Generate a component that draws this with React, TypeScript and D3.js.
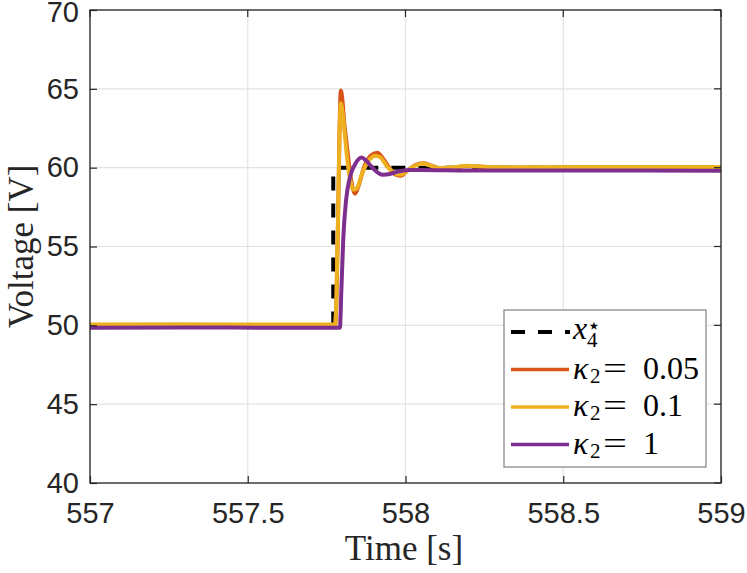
import { useEffect, useRef } from "react";
import * as d3 from "d3";

type Pt = [number, number];

// reference x4* (step)
const refStep: Pt[] = [
  [557, 50],
  [557.771, 50],
  [557.771, 60],
  [559, 60],
];

// kappa2 = 0.05
const kappa005: Pt[] = [
  [557, 50.02], [557.3, 50.03], [557.6, 50.02], [557.777, 50.02],
  [557.781, 51.5], [557.786, 56.5], [557.791, 62.5], [557.795, 64.9],
  [557.8, 64.3], [557.806, 62.8], [557.813, 61.6], [557.824, 59.7],
  [557.834, 58.6], [557.84, 58.35], [557.852, 58.9], [557.87, 60.1],
  [557.892, 60.8], [557.911, 60.95], [557.928, 60.6], [557.95, 59.95],
  [557.97, 59.55], [557.985, 59.48], [558.005, 59.8], [558.03, 60.15],
  [558.056, 60.28], [558.08, 60.15], [558.11, 59.95], [558.15, 59.98],
  [558.194, 60.1], [558.25, 60.04], [558.35, 59.99], [558.6, 60.02], [559, 60.0],
];

// kappa2 = 0.1
const kappa01: Pt[] = [
  [557, 50.06], [557.3, 50.06], [557.6, 50.05], [557.777, 50.05],
  [557.781, 51.8], [557.786, 56.5], [557.791, 62.2], [557.795, 64.08],
  [557.8, 63.6], [557.807, 62.2], [557.815, 60.6], [557.825, 59.2],
  [557.835, 58.6], [557.846, 58.7], [557.862, 59.6], [557.885, 60.5],
  [557.905, 60.75], [557.92, 60.65], [557.945, 60.0], [557.968, 59.62],
  [557.985, 59.55], [558.005, 59.8], [558.03, 60.12], [558.056, 60.25],
  [558.08, 60.12], [558.11, 59.98], [558.15, 60.02], [558.194, 60.12],
  [558.25, 60.06], [558.35, 60.02], [558.6, 60.04], [559, 60.04],
];

// kappa2 = 1
const kappa1: Pt[] = [
  [557, 49.85], [557.3, 49.86], [557.6, 49.85], [557.792, 49.85],
  [557.797, 52.4], [557.803, 55.6], [557.812, 58.0], [557.824, 59.4],
  [557.84, 60.2], [557.861, 60.64], [557.875, 60.45], [557.895, 60.0],
  [557.915, 59.65], [557.93, 59.55], [557.95, 59.6], [557.975, 59.75],
  [558.01, 59.85], [558.05, 59.85], [558.2, 59.82], [558.6, 59.82], [559, 59.8],
];

const xTicks = [557, 557.5, 558, 558.5, 559];
const yTicks = [40, 45, 50, 55, 60, 65, 70];

const seriesColors = ["#D95319", "#EDB120", "#7E2F8E"];
const seriesNames = ["0.05", "0.1", "1"];

export default function App() {
  const ref = useRef<SVGSVGElement>(null);

  useEffect(() => {
    if (!ref.current) return;
    const width = 747;
    const height = 573;
    const margin = { top: 10, right: 26, bottom: 90, left: 90 };
    const innerWidth = width - margin.left - margin.right;
    const innerHeight = height - margin.top - margin.bottom;

    const root = d3.select(ref.current);
    root.selectAll("*").remove();
    root.attr("width", width).attr("height", height);

    const svg = root
      .append("g")
      .attr("transform", `translate(${margin.left},${margin.top})`);

    const x = d3.scaleLinear().domain([557, 559]).range([0, innerWidth]);
    const y = d3.scaleLinear().domain([40, 70]).range([innerHeight, 0]);

    svg
      .append("rect")
      .attr("width", innerWidth)
      .attr("height", innerHeight)
      .attr("fill", "#fff");

    // grid
    svg
      .append("g")
      .selectAll("line")
      .data(xTicks)
      .join("line")
      .attr("x1", (d) => x(d))
      .attr("x2", (d) => x(d))
      .attr("y1", 0)
      .attr("y2", innerHeight)
      .attr("stroke", "#e3e3e3")
      .attr("stroke-width", 1.2);
    svg
      .append("g")
      .selectAll("line")
      .data(yTicks)
      .join("line")
      .attr("x1", 0)
      .attr("x2", innerWidth)
      .attr("y1", (d) => y(d))
      .attr("y2", (d) => y(d))
      .attr("stroke", "#e3e3e3")
      .attr("stroke-width", 1.2);

    svg
      .append("clipPath")
      .attr("id", "plotclip")
      .append("rect")
      .attr("width", innerWidth)
      .attr("height", innerHeight);

    const plot = svg.append("g").attr("clip-path", "url(#plotclip)");

    const stepLine = d3
      .line<Pt>()
      .x((d) => x(d[0]))
      .y((d) => y(d[1]));
    const smoothLine = d3
      .line<Pt>()
      .x((d) => x(d[0]))
      .y((d) => y(d[1]))
      .curve(d3.curveMonotoneX);

    plot
      .append("path")
      .datum(refStep)
      .attr("fill", "none")
      .attr("stroke", "#000")
      .attr("stroke-width", 4)
      .attr("stroke-dasharray", "14,13")
      .attr("d", stepLine);

    [kappa005, kappa01, kappa1].forEach((s, i) => {
      plot
        .append("path")
        .datum(s)
        .attr("fill", "none")
        .attr("stroke", seriesColors[i])
        .attr("stroke-width", 4)
        .attr("stroke-linejoin", "round")
        .attr("d", smoothLine);
    });

    // axes
    const font = "'Liberation Sans', Arial, Helvetica, sans-serif";
    const axColor = "#262626";
    const xAxis = svg
      .append("g")
      .attr("transform", `translate(0,${innerHeight})`)
      .call(
        d3
          .axisBottom(x)
          .tickValues(xTicks)
          .tickSizeInner(-7)
          .tickSizeOuter(0)
          .tickPadding(19)
          .tickFormat((d) => String(d))
      );
    const yAxis = svg.append("g").call(
      d3
        .axisLeft(y)
        .tickValues(yTicks)
        .tickSizeInner(-7)
        .tickSizeOuter(0)
        .tickPadding(11)
        .tickFormat((d) => String(d))
    );
    [xAxis, yAxis].forEach((a) => {
      a.select(".domain").remove();
      a.selectAll("line").attr("stroke", axColor).attr("stroke-width", 1.2);
      a.selectAll("text")
        .attr("fill", axColor)
        .style("font-family", font)
        .style("font-size", "29px");
    });
    // keep the top label inside the page
    yAxis
      .selectAll<SVGTextElement, number>("text")
      .filter((d) => d === 70)
      .attr("dy", "0.36em")
      .attr("y", 1);
    // top/right ticks
    svg
      .append("g")
      .selectAll("line")
      .data(xTicks)
      .join("line")
      .attr("x1", (d) => x(d))
      .attr("x2", (d) => x(d))
      .attr("y1", 0)
      .attr("y2", 7)
      .attr("stroke", axColor)
      .attr("stroke-width", 1.2);
    svg
      .append("g")
      .selectAll("line")
      .data(yTicks)
      .join("line")
      .attr("x1", innerWidth - 7)
      .attr("x2", innerWidth)
      .attr("y1", (d) => y(d))
      .attr("y2", (d) => y(d))
      .attr("stroke", axColor)
      .attr("stroke-width", 1.2);

    svg
      .append("rect")
      .attr("width", innerWidth)
      .attr("height", innerHeight)
      .attr("fill", "none")
      .attr("stroke", axColor)
      .attr("stroke-width", 1.3);

    const serif = "'Liberation Serif', 'DejaVu Serif', serif";
    svg
      .append("text")
      .attr("x", innerWidth / 2 - 1.5)
      .attr("y", 560 - margin.top)
      .attr("text-anchor", "middle")
      .attr("fill", axColor)
      .style("font-family", serif)
      .style("font-size", "35px")
      .text("Time [s]");
    svg
      .append("text")
      .attr("transform", "rotate(-90)")
      .attr("x", -innerHeight / 2)
      .attr("y", 33 - margin.left)
      .attr("text-anchor", "middle")
      .attr("fill", axColor)
      .style("font-family", serif)
      .style("font-size", "35px")
      .text("Voltage [V]");

    // legend
    const lg = root.append("g");
    lg.append("rect")
      .attr("x", 504)
      .attr("y", 310)
      .attr("width", 202)
      .attr("height", 157)
      .attr("fill", "#fff")
      .attr("stroke", "#808080")
      .attr("stroke-width", 1.2);

    const rowY = [332, 369.5, 407, 444.5];
    lg.append("line")
      .attr("x1", 511)
      .attr("x2", 570)
      .attr("y1", rowY[0])
      .attr("y2", rowY[0])
      .attr("stroke", "#000")
      .attr("stroke-width", 4)
      .attr("stroke-dasharray", "14,13");
    const t0 = lg
      .append("g")
      .attr("fill", "#000")
      .style("font-family", serif);
    t0.append("text")
      .attr("x", 573)
      .attr("y", rowY[0] + 7)
      .style("font-size", "32px")
      .style("font-style", "italic")
      .text("x");
    t0.append("text")
      .attr("x", 587)
      .attr("y", rowY[0] + 15)
      .style("font-size", "21px")
      .text("4");
    t0.append("text")
      .attr("x", 587)
      .attr("y", rowY[0] + 1)
      .style("font-size", "22px")
      .text("⋆");

    seriesNames.forEach((name, i) => {
      const yy = rowY[i + 1];
      lg.append("line")
        .attr("x1", 511)
        .attr("x2", 569)
        .attr("y1", yy)
        .attr("y2", yy)
        .attr("stroke", seriesColors[i])
        .attr("stroke-width", 3.5);
      const t = lg
        .append("g")
        .attr("fill", "#000")
        .style("font-family", serif);
      t.append("text")
        .attr("x", 573)
        .attr("y", yy + 9)
        .style("font-size", "32px")
        .style("font-style", "italic")
        .text("κ");
      t.append("text")
        .attr("x", 590)
        .attr("y", yy + 13)
        .style("font-size", "21px")
        .text("2");
      t.append("text")
        .attr("x", 603)
        .attr("y", yy + 9)
        .attr("textLength", 24)
        .attr("lengthAdjust", "spacingAndGlyphs")
        .style("font-size", "32px")
        .text("=");
      t.append("text")
        .attr("x", 643)
        .attr("y", yy + 9)
        .style("font-size", "32px")
        .text(name);
    });
  }, []);

  return (
    <svg
      ref={ref}
      style={{ position: "absolute", left: 0, top: 0, background: "#fff" }}
    />
  );
}
